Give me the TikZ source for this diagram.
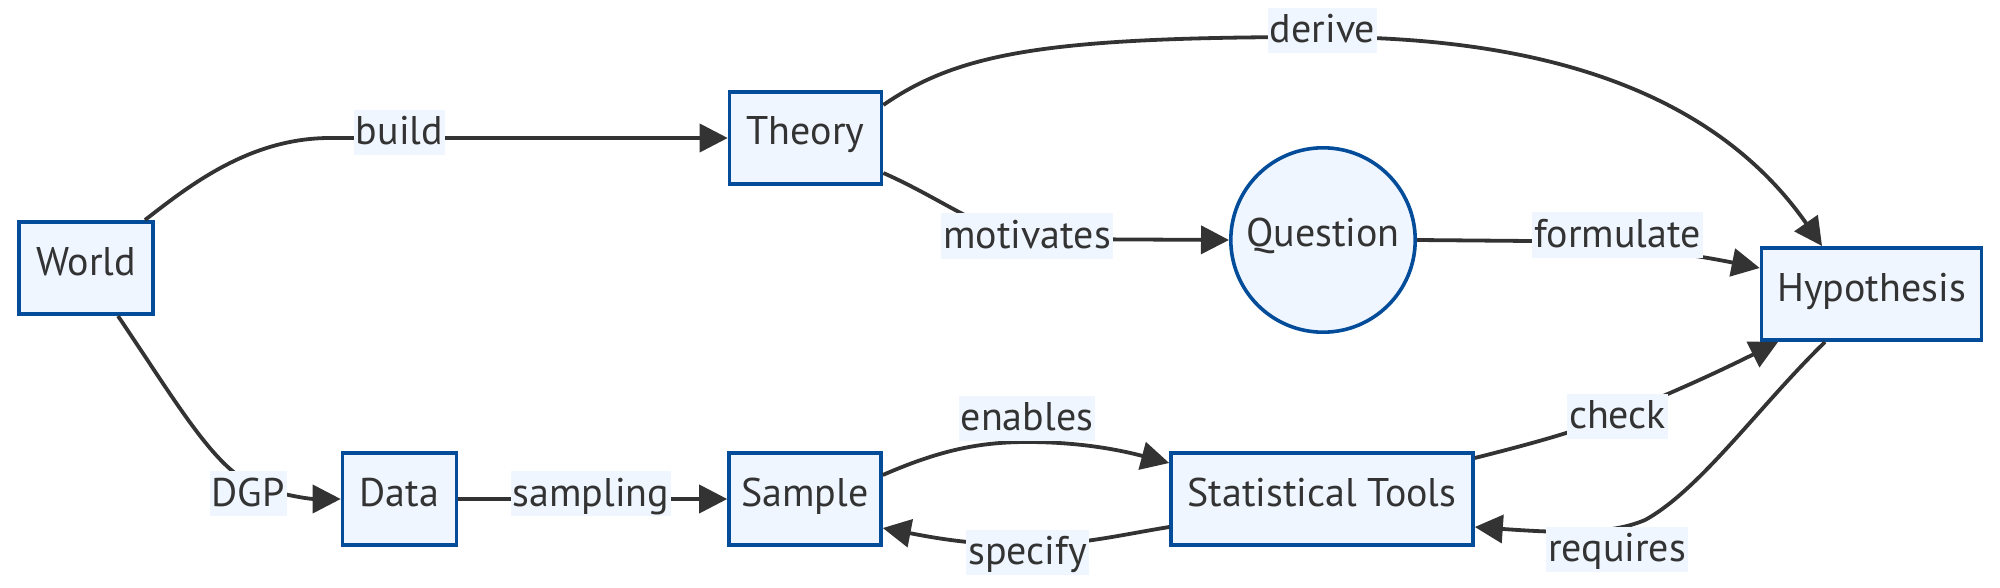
\documentclass[tikz,border=0pt]{standalone}
\usepackage{fontspec}
\setmainfont{PT Sans}
\usetikzlibrary{arrows.meta}
\definecolor{nodefill}{HTML}{EFF6FF}
\definecolor{nodeborder}{HTML}{024C99}
\definecolor{edgecol}{HTML}{333333}
\begin{document}
\begin{tikzpicture}[x=0.5pt,y=-0.5pt,
  box/.style={draw=nodeborder, fill=nodefill, line width=1.8pt, minimum height=46.2pt,
    inner sep=0pt, text height=12pt, text depth=5pt, font=\fontsize{20}{24}\selectfont, text=edgecol},
  qcircle/.style={box, circle, minimum size=92.2pt},
  edge/.style={draw=edgecol, line width=1.9pt, -{Triangle[length=14pt,width=14pt]}},
  elabel/.style={fill=nodefill, inner xsep=1pt, inner ysep=0pt, text height=17.5pt, text depth=5pt,
    font=\fontsize{20}{24}\selectfont, text=edgecol}]
\useasboundingbox (0,0) rectangle (2000,588);
% nodes
\node[box, minimum width=67pt] (world) at (86,268) {World};
\node[box, minimum width=76pt] (theory) at (805.5,138) {Theory};
\node[qcircle] (question) at (1323,240) {Question};
\node[box, minimum width=110pt] (hyp) at (1871.5,294) {Hypothesis};
\node[box, minimum width=57pt] (data) at (399.5,499) {Data};
\node[box, minimum width=76pt] (sample) at (805,499) {Sample};
\node[box, minimum width=151pt] (stat) at (1322,499) {Statistical Tools};
% edges
\draw[edge] ([xshift=29.5pt]world.north) .. controls (190,185) and (250,138) .. (330,138) -- (theory.west);
\draw[edge] ([xshift=16pt]world.south) .. controls (175,400) and (215,470) .. (255,485)
  .. controls (280,495) and (310,499) .. (data.west);
\draw[edge] ([yshift=16.5pt]theory.east) .. controls (960,52) and (1050,37) .. (1322,37)
  .. controls (1560,37) and (1720,100) .. ([xshift=-24.75pt]hyp.north);
\draw[edge] ([yshift=-17.5pt]theory.east) .. controls (945,200) and (990,238) .. (1040,239) -- (question.west);
\draw[edge] (question.east) -- (1530,241) .. controls (1600,242) and (1680,252) .. ([yshift=13pt]hyp.west);
\draw[edge] (data.east) -- (sample.west);
\draw[edge] ([yshift=12pt]sample.east) .. controls (940,450) and (980,442) .. (1027,442)
  .. controls (1080,442) and (1120,450) .. ([yshift=18pt]stat.west);
\draw[edge] ([yshift=-14pt]stat.west) .. controls (1120,535) and (1080,545) .. (1027,545)
  .. controls (970,545) and (930,537) .. ([yshift=-14.5pt]sample.east);
\draw[edge] ([yshift=20.5pt]stat.east) .. controls (1530,444) and (1575,432) .. (1617,415)
  .. controls (1680,390) and (1730,366) .. ([xshift=-46.75pt]hyp.south);
\draw[edge] ([xshift=-23.25pt]hyp.south) .. controls (1760,405) and (1700,490) .. (1645,520)
  .. controls (1610,535) and (1560,533) .. ([yshift=-14pt]stat.east);
% edge labels
\node[elabel] (lbuild) at (399.5,132.5) {build};
\node[elabel] (lderive) at (1322.5,30.5) {derive};
\node[elabel] (lmotivates) at (1027,236) {motivates};
\node[elabel] (lformulate) at (1617.5,235) {formulate};
\node[elabel] (ldgp) at (248,493.5) {DGP};
\node[elabel] (lsampling) at (591,493.5) {sampling};
\node[elabel] (lenables) at (1027,418) {enables};
\node[elabel] (lspecify) at (1027.5,552) {specify};
\node[elabel] (lcheck) at (1617.5,416) {check};
\node[elabel] (lrequires) at (1617,549) {requires};
\end{tikzpicture}
\end{document}
